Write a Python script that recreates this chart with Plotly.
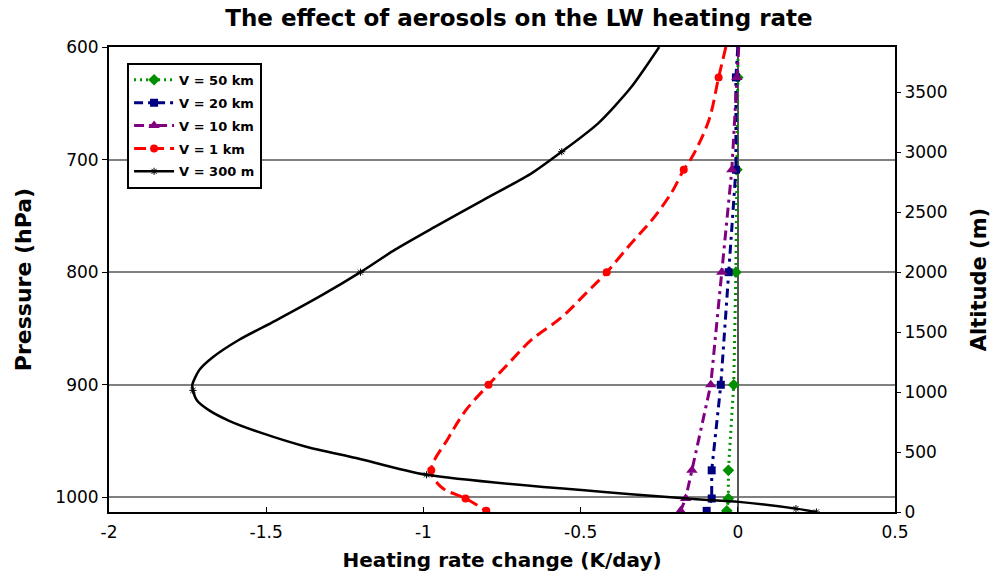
import plotly.graph_objects as go

# ---------------- data ----------------
series_names = ["V = 50 km", "V = 20 km", "V = 10 km", "V = 1 km", "V = 300 m"]

p_green = [600, 627, 709, 800, 900, 976, 1001, 1012]
x_green = [0.001, 0.0, -0.003, -0.006, -0.013, -0.030, -0.030, -0.035]

p_blue = [600, 627, 709, 800, 900, 976, 1001, 1012]
x_blue = [0.0, -0.006, -0.006, -0.029, -0.054, -0.083, -0.083, -0.099]

p_purple = [600, 627, 709, 800, 900, 976, 1001, 1012]
x_purple = [0.003, -0.003, -0.019, -0.051, -0.086, -0.146, -0.166, -0.182]

p_red = [600, 627, 665, 698, 709, 729, 754, 774, 800, 819, 840, 860, 881,
         900, 923, 947, 976, 991, 1001, 1012]
x_red = [-0.038, -0.061, -0.092, -0.146, -0.172, -0.21, -0.274, -0.338,
         -0.417, -0.484, -0.56, -0.656, -0.729, -0.793, -0.866, -0.92,
         -0.975, -0.943, -0.866, -0.8]

p_black = [600, 636, 668, 693, 712, 736, 760, 780, 800, 820, 843, 860, 876,
           887, 900, 905, 914, 923, 932, 943, 955, 965, 980, 1001, 1004,
           1010, 1013]
x_black = [-0.25, -0.34, -0.445, -0.56, -0.655, -0.81, -0.965, -1.09, -1.20,
           -1.32, -1.47, -1.586, -1.672, -1.713, -1.735, -1.733, -1.72, -1.68,
           -1.618, -1.513, -1.373, -1.214, -0.99, -0.165, 0.003,
           0.185, 0.25]

# pressure levels carrying a marker
mark_levels = [627, 709, 800, 900, 976, 1001, 1012]
mark_levels_black = [693, 800, 905, 980, 1010, 1013]

x_ticks = [-2, -1.5, -1, -0.5, 0, 0.5]
x_ticklabels = ["-2", "-1.5", "-1", "-0.5", "0", "0.5"]
p_ticks = [600, 700, 800, 900, 1000]
alt_ticks = [0, 500, 1000, 1500, 2000, 2500, 3000, 3500]

# ---------------- styles ----------------
styles = [
    dict(color="#009000", dash="2px,4px", width=3, symbol="diamond", size=9, shape="linear", sm=0),
    dict(color="#000080", dash="9px,5px,3px,5px", width=3, symbol="square", size=8, shape="linear", sm=0),
    dict(color="#800080", dash="10px,5px,3px,5px", width=3, symbol="triangle-up", size=10, shape="linear", sm=0),
    dict(color="#ff0000", dash="12px,6px", width=3, symbol="circle", size=8, shape="spline", sm=1.0),
    dict(color="#000000", dash="solid", width=2.5, symbol="asterisk-open", size=6, shape="spline", sm=0.7),
]
datasets = [(p_green, x_green, mark_levels), (p_blue, x_blue, mark_levels),
            (p_purple, x_purple, mark_levels), (p_red, x_red, mark_levels),
            (p_black, x_black, mark_levels_black)]

fig = go.Figure()
for name, st, (pp, xx, ml) in zip(series_names, styles, datasets):
    mline = dict(color="#555555", width=1) if "open" in st["symbol"] else dict(width=0)
    line = dict(color=st["color"], dash=st["dash"], width=st["width"], shape=st["shape"])
    if st["shape"] == "spline":
        line["smoothing"] = st["sm"]
    fig.add_trace(go.Scatter(
        x=xx, y=pp, mode="lines", showlegend=False, legendgroup=name,
        line=line, hoverinfo="skip"))
    mx = [x for x, p in zip(xx, pp) if p in ml]
    my = [p for p in pp if p in ml]
    fig.add_trace(go.Scatter(
        x=mx, y=my, mode="markers", showlegend=False, legendgroup=name,
        marker=dict(color=st["color"], symbol=st["symbol"], size=st["size"], line=mline)))
    # legend entry
    fig.add_trace(go.Scatter(
        x=[None], y=[None], mode="lines+markers", name="<b>" + name + "</b>", legendgroup=name,
        line=dict(color=st["color"], dash=st["dash"], width=st["width"]),
        marker=dict(color=st["color"], symbol=st["symbol"], size=st["size"], line=mline)))

# invisible trace so the altitude axis is drawn
fig.add_trace(go.Scatter(x=[None], y=[None], yaxis="y2", showlegend=False, mode="markers"))

tick_font = dict(family="DejaVu Sans", size=17, color="black")

fig.update_layout(
    width=995, height=573,
    margin=dict(l=109, r=100, t=47, b=61, autoexpand=False),
    paper_bgcolor="white", plot_bgcolor="white",
    title=dict(text="<b>The effect of aerosols on the LW heating rate</b>",
               font=dict(family="DejaVu Sans", size=23, color="black"),
               x=0.5216, xref="container", xanchor="center",
               y=1 - 18 / 573, yref="container", yanchor="middle"),
    xaxis=dict(range=[-2, 0.5], tickvals=x_ticks, ticktext=x_ticklabels,
               showgrid=False, zeroline=True, zerolinecolor="#555555", zerolinewidth=1.5,
               showline=True, linecolor="black", linewidth=2, mirror=True,
               ticks="inside", ticklen=5, tickcolor="black", tickfont=tick_font,
               ticklabelstandoff=4, automargin=False,
               title=dict(text="<b>Heating rate change (K/day)</b>",
                          font=dict(family="DejaVu Sans", size=20, color="black"), standoff=12)),
    yaxis=dict(range=[1013, 600], tickvals=p_ticks,
               showgrid=True, gridcolor="#808080", gridwidth=1.5, zeroline=False,
               showline=True, linecolor="black", linewidth=2, mirror=True,
               ticks="outside", ticklen=5, tickcolor="black", tickfont=tick_font,
               automargin=False,
               title=dict(text="<b>Pressure (hPa)</b>",
                          font=dict(family="DejaVu Sans", size=22, color="black"), standoff=18)),
    yaxis2=dict(range=[0, 3875], tickvals=alt_ticks, overlaying="y", side="right",
                showgrid=False, zeroline=False, showline=False,
                ticks="outside", ticklen=5, tickcolor="black", tickfont=tick_font,
                automargin=False,
                title=dict(text="<b>Altitude (m)</b>",
                           font=dict(family="DejaVu Sans", size=21, color="black"), standoff=24)),
    legend=dict(x=0.023, y=0.966, xanchor="left", yanchor="top",
                bgcolor="white", bordercolor="black", borderwidth=2,
                font=dict(family="DejaVu Sans", size=13, color="black"),
                tracegroupgap=3, itemwidth=40),
    showlegend=True,
)

fig.write_html("out.html")
